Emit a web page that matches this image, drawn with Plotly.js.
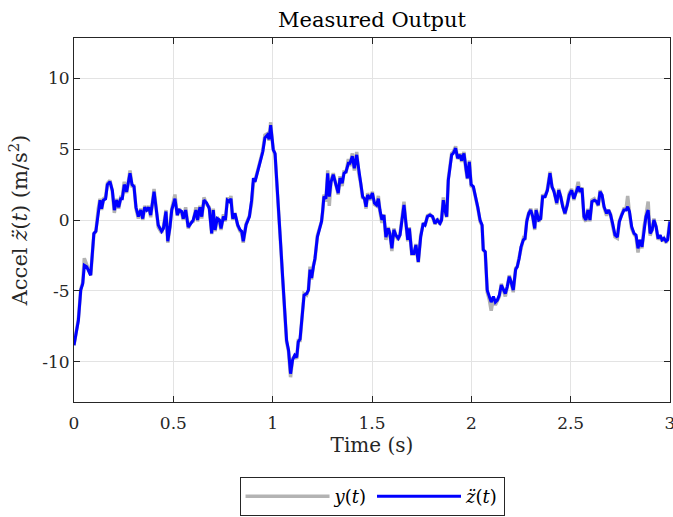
<!DOCTYPE html>
<html>
<head>
<meta charset="utf-8">
<script src="https://cdn.plot.ly/plotly-3.0.1.min.js"></script>
<style>html,body{margin:0;padding:0;background:#fff;}#chart{width:673px;height:517px;}</style>
</head>
<body>
<div id="chart"></div>
<script>
var time = [0,0.022,0.034,0.044,0.052,0.064,0.084,0.1,0.11,0.122,0.131,0.139,0.148,0.159,0.168,0.181,0.193,0.203,0.215,0.225,0.235,0.243,0.253,0.265,0.282,0.292,0.302,0.312,0.324,0.336,0.346,0.356,0.366,0.376,0.386,0.403,0.413,0.424,0.441,0.45,0.463,0.472,0.483,0.492,0.508,0.52,0.53,0.542,0.55,0.562,0.575,0.587,0.6,0.614,0.622,0.634,0.643,0.654,0.668,0.681,0.693,0.701,0.71,0.721,0.732,0.74,0.752,0.762,0.772,0.782,0.79,0.799,0.81,0.824,0.836,0.844,0.852,0.866,0.883,0.894,0.903,0.911,0.923,0.936,0.95,0.961,0.973,0.982,0.99,0.997,1.003,1.012,1.02,1.029,1.04,1.05,1.062,1.07,1.08,1.09,1.1,1.111,1.121,1.129,1.138,1.148,1.158,1.171,1.18,1.188,1.196,1.205,1.213,1.225,1.235,1.246,1.252,1.258,1.268,1.277,1.285,1.294,1.305,1.319,1.33,1.339,1.35,1.359,1.369,1.381,1.389,1.401,1.411,1.423,1.433,1.443,1.453,1.462,1.47,1.478,1.49,1.502,1.512,1.523,1.532,1.54,1.55,1.56,1.57,1.582,1.59,1.6,1.61,1.62,1.632,1.641,1.649,1.661,1.671,1.68,1.688,1.7,1.711,1.721,1.733,1.745,1.758,1.767,1.779,1.792,1.805,1.817,1.829,1.842,1.85,1.859,1.867,1.876,1.884,1.893,1.901,1.909,1.921,1.931,1.943,1.951,1.963,1.973,1.98,1.99,1.999,2.01,2.022,2.032,2.044,2.054,2.06,2.07,2.08,2.09,2.1,2.111,2.121,2.131,2.141,2.151,2.161,2.171,2.181,2.191,2.2,2.211,2.223,2.231,2.241,2.25,2.262,2.27,2.279,2.289,2.299,2.309,2.319,2.326,2.339,2.349,2.359,2.371,2.383,2.396,2.406,2.416,2.43,2.44,2.45,2.46,2.471,2.483,2.493,2.505,2.516,2.527,2.538,2.547,2.557,2.567,2.577,2.587,2.597,2.607,2.619,2.631,2.639,2.648,2.658,2.668,2.681,2.691,2.701,2.711,2.723,2.735,2.745,2.757,2.768,2.779,2.787,2.796,2.807,2.819,2.829,2.839,2.849,2.859,2.869,2.879,2.89,2.9,2.91,2.919,2.93,2.94,2.95,2.96,2.97,2.98,2.988,2.997,3.0];

var zAccel = [-8.84,-7.1,-4.95,-4.5,-3.2,-3.3,-3.9,-0.95,-0.8,0.7,1.4,0.8,1.4,1.5,2.5,2.7,2.1,0.7,1.4,0.9,1.5,1.5,2.5,2.0,3.3,2.5,2.35,0.9,0.24,0.7,0.1,0.9,0.7,0.9,0.35,2.0,0.9,-0.35,-0.8,-0.6,0.6,-1.5,-0.5,0.7,1.5,0.35,0.7,0.6,0.1,0.7,-0.5,-0.25,0,0.7,0,0.9,0.24,1.4,1.2,0.8,-0.95,0.7,-0.7,0.1,0,-0.6,0.24,0,1.4,1.3,1.5,0.1,0.47,-0.35,-0.7,-0.8,-1.5,-0.35,0.24,1.4,2.95,2.7,3.3,4.0,4.8,5.8,6.0,5.7,6.7,5.8,4.95,4.7,3.07,1.2,-1.65,-4.0,-6.8,-8.5,-9.2,-10.85,-9.9,-9.55,-9.7,-8.6,-8.4,-6.8,-5.3,-5.2,-4.95,-3.5,-4.1,-3.3,-2.7,-1.2,-0.6,-0.1,0.7,1.65,1.5,3.3,1.65,2.7,3.2,2.5,1.9,2.95,2.6,3.3,3.4,4.0,4.0,4.5,3.65,4.6,3.5,2.5,1.65,1.5,0.94,1.77,1.5,1.9,1.2,1.06,1.5,0.7,0,0.35,-1.2,-0.6,-0.95,-2.0,-0.7,-1.06,-1.3,-1.06,-0.24,1.06,-0.24,-1.4,-0.6,-2.36,-2.36,-1.77,-2.95,-1.2,-0.24,-0.35,0.24,0.35,0.24,-0.24,0,-0.24,0,1.4,0.7,0.24,2.8,3.77,4.6,4.7,5.07,4.36,4.6,4.2,4.7,3.65,2.95,4.1,2.5,2.36,1.65,0.94,0,-0.35,-2.1,-2.24,-4.95,-5.4,-5.8,-5.4,-5.8,-5.66,-5.3,-4.6,-4.95,-5.2,-4.7,-4.0,-4.36,-4.95,-3.5,-3.3,-2.7,-1.9,-1.4,-1.3,-0.12,0.47,0.7,0.24,-0.6,0.7,0,0.1,1.65,1.65,2.1,3.3,2.36,2.0,1.2,2.1,1.65,0.94,0.47,1.06,1.77,2.1,1.5,1.9,2.36,2.0,2.24,0.24,0,0.7,0,1.3,1.4,1.3,1.06,2.0,1.77,0.94,0.47,0.7,0.35,-0.24,-1.06,-1.2,-0.12,0.35,0.7,0.7,0.94,0.6,-0.47,-0.95,-1.06,-2.0,-1.4,-1.9,-0.6,0.24,0.7,-0.95,-0.7,0,-0.47,-1.3,-1.06,-1.4,-1.3,-1.5,-1.4,-0.24,-0.1];

var yMeas = [-8.84,-7.0,-4.9,-4.4,-2.7,-3.2,-3.9,-1.0,-0.8,0.8,1.5,0.7,1.5,1.6,2.6,2.8,2.0,0.5,1.5,0.8,1.6,1.6,2.7,1.9,3.5,2.4,2.4,0.8,0.1,0.8,0,1.0,0.6,1.0,0.2,2.2,0.8,-0.5,-0.9,-0.5,0.7,-1.6,-0.5,0.8,1.8,0.3,0.8,0.5,0,0.9,-0.6,-0.2,-0.1,0.9,-0.1,1.0,0.1,1.6,1.1,0.9,-1.0,0.8,-0.8,0.2,-0.1,-0.7,0.4,-0.1,1.6,1.2,1.7,0,0.5,-0.4,-0.8,-0.9,-1.6,-0.3,0.3,1.2,2.6,2.8,3.4,4.1,4.9,6.0,6.1,5.6,6.9,5.7,5.0,4.6,3.0,1.1,-1.7,-4.1,-6.9,-8.6,-9.3,-11.1,-9.8,-9.6,-9.8,-8.5,-8.5,-6.7,-5.2,-5.3,-4.9,-3.3,-4.2,-3.2,-2.8,-1.1,-0.7,-0.1,0.6,1.8,1.3,3.5,1.0,2.8,3.3,2.3,1.8,3.1,2.4,3.5,3.3,4.3,3.8,4.7,3.5,4.8,3.3,2.6,1.5,1.6,0.8,1.9,1.4,2.0,1.1,1.0,1.7,0.6,-0.2,0.4,-1.4,-0.5,-1.0,-2.2,-0.6,-1.1,-1.4,-1.0,-0.1,1.3,-0.3,-1.5,-0.5,-2.4,-2.4,-1.7,-3.0,-1.1,-0.2,-0.4,0.3,0.4,0.2,-0.3,0.1,-0.3,0,1.6,0.6,0.2,2.9,3.8,4.7,4.8,5.2,4.3,4.7,4.1,4.8,3.5,2.9,4.2,2.4,2.3,1.6,0.9,-0.1,-0.4,-2.1,-2.3,-5.1,-5.6,-6.4,-5.5,-6.0,-5.7,-5.4,-4.5,-5.0,-5.4,-4.7,-3.9,-4.4,-5.1,-3.4,-3.3,-2.6,-1.9,-1.3,-1.4,0,0.5,0.8,0.2,-0.7,0.8,-0.1,0.1,1.8,1.6,2.2,3.4,2.3,2.1,1.1,2.2,1.6,0.9,0.4,1.1,1.9,2.2,1.4,2.0,2.7,1.9,2.3,0.1,-0.1,0.8,-0.1,1.4,1.5,1.2,1.0,2.1,1.7,0.9,0.3,0.7,0.4,-0.4,-1.2,-1.3,-0.1,0.4,0.8,0.8,1.7,0.5,-0.6,-1.0,-1.2,-2.3,-1.4,-2.0,-0.5,0.3,1.3,-1.1,-0.7,0.1,-0.5,-1.4,-1.1,-1.5,-1.3,-1.6,-1.4,-0.2,-0.1];

var xTickVals = [0,0.5,1,1.5,2,2.5,3];
var xTickText = ['0','0.5','1','1.5','2','2.5','3'];
var yTickVals = [-10,-5,0,5,10];
var yTickText = ['-10','-5','0','5','10'];

var font = 'DejaVu Serif, serif';
var axisCol = '#262626';

var traces = [
  {x: time, y: yMeas, type: 'scatter', mode: 'lines', name: '<i>y</i>(<i>t</i>)',
   line: {color: '#b3b3b3', width: 3.5}},
  {x: time, y: zAccel, type: 'scatter', mode: 'lines', name: '<i>z̈</i>(<i>t</i>)',
   line: {color: '#0000ff', width: 3}}
];

var layout = {
  width: 673, height: 517,
  margin: {l: 74, r: 3, t: 38, b: 115},
  paper_bgcolor: '#fff', plot_bgcolor: '#fff',
  font: {family: font, color: axisCol, size: 17},
  title: {text: 'Measured Output', font: {family: font, size: 21, color: '#000'}, x: 0.5528, xanchor: 'center', y: 0.962, yanchor: 'middle'},
  xaxis: {range: [0, 3], tickvals: xTickVals, ticktext: xTickText, ticks: 'inside', ticklen: 6, tickcolor: axisCol,
    showline: true, linecolor: axisCol, linewidth: 1, mirror: 'ticks', showgrid: true, gridcolor: '#e3e3e3', gridwidth: 1,
    zeroline: false, automargin: false, tickfont: {size: 17, family: font, color: axisCol}, ticklabeloverflow: 'allow', ticklabelstandoff: 6,
    title: {text: 'Time (s)', font: {size: 20, family: font, color: axisCol}, standoff: 4}},
  yaxis: {range: [-12.85, 12.85], tickvals: yTickVals, ticktext: yTickText, ticks: 'inside', ticklen: 6, tickcolor: axisCol,
    showline: true, linecolor: axisCol, linewidth: 1, mirror: 'ticks', showgrid: true, gridcolor: '#e3e3e3', gridwidth: 1,
    zeroline: false, automargin: false, tickfont: {size: 17, family: font, color: axisCol}, ticklabeloverflow: 'allow',
    title: {text: 'Accel <i>z̈</i>(<i>t</i>) (m/s<sup>2</sup>)', font: {size: 21, family: font, color: axisCol}, standoff: 8}},
  legend: {orientation: 'h', xref: 'container', yref: 'container', x: 0.5528, xanchor: 'center', y: 0.0774, yanchor: 'top',
    bordercolor: '#262626', borderwidth: 1, bgcolor: '#fff', font: {size: 18, family: font, color: '#000'}, itemwidth: 84},
  showlegend: true
};

Plotly.newPlot('chart', traces, layout, {displayModeBar: false, staticPlot: true});
</script>
</body>
</html>
